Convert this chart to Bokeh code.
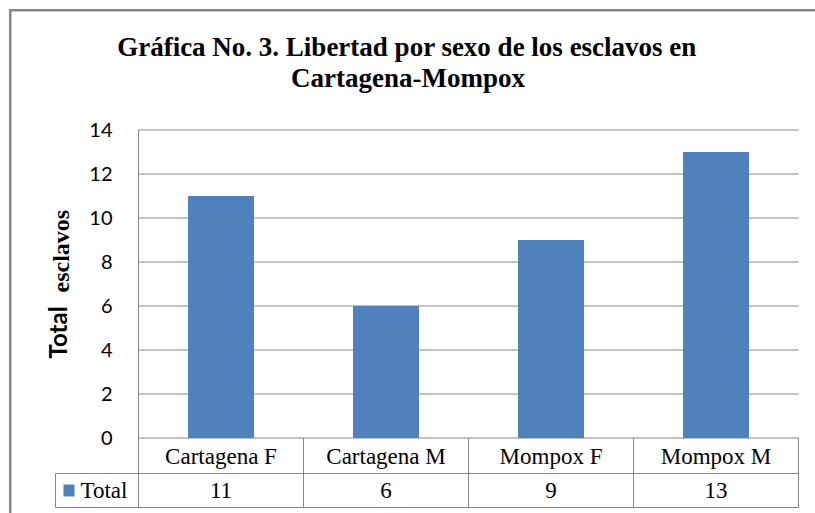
from math import pi
from bokeh.plotting import figure
from bokeh.models import Range1d, FixedTicker, Label
from bokeh.core.properties import value
from bokeh.embed import file_html
from bokeh.resources import INLINE

# ---- data ----
categories = ["Cartagena F", "Cartagena M", "Mompox F", "Mompox M"]
values = [11, 6, 9, 13]
series_name = "Total"
y_ticks = [0, 2, 4, 6, 8, 10, 12, 14]
title_lines = ["Gráfica No. 3. Libertad por sexo de los esclavos en", "Cartagena-Mompox"]
ylabel_parts = ["Total", "esclavos"]

BAR = "#4F81BD"
GRID = "#868686"
FRAME = "#878787"
SERIF = "Liberation Serif"
SANS = "Lato"

W, H = 815, 513
XPX, YPX = 165.0, 22.0          # pixels per category / per y unit
X0, Y0 = 138.0, 437.5           # pixel position of x=0 / y=0
FRAME_LEFT = 0


def dx(px):
    return (px - X0) / XPX


def dy(py):
    return (Y0 - py) / YPX


n = len(categories)
xs = [i + 0.5 for i in range(n)]
ymax = y_ticks[-1]
ROW_SEP = dy(473)
TABLE_BOTTOM = dy(507)

p = figure(width=W, height=H,
           x_range=Range1d(dx(FRAME_LEFT), dx(W)), y_range=Range1d(dy(H), dy(0)),
           x_axis_location=None, output_backend="svg", toolbar_location=None,
           min_border_left=FRAME_LEFT, min_border_right=0, min_border_top=0, min_border_bottom=0)
p.outline_line_color = None
p.background_fill_color = "white"
p.border_fill_color = "white"
p.grid.visible = False

# y axis (labels), placed so labels end 26px left of the value axis line
ax = p.yaxis[0]
ax.fixed_location = dx(112)
ax.ticker = FixedTicker(ticks=y_ticks)
ax.axis_line_color = None
ax.major_tick_in = 0
ax.major_tick_out = 0
ax.minor_tick_line_color = None
ax.major_label_standoff = 0
ax.major_label_text_font = SANS
ax.major_label_text_font_size = "20px"
ax.major_label_text_color = "black"

# horizontal gridlines across the category area and value axis line
p.segment(x0=[0] * len(y_ticks), x1=[n] * len(y_ticks), y0=y_ticks, y1=y_ticks,
          line_color=GRID, line_width=1)
p.segment(x0=[0], x1=[0], y0=[TABLE_BOTTOM], y1=[ymax], line_color=GRID, line_width=1)

# bars
p.vbar(x=xs, top=values, bottom=0, width=0.4, fill_color=BAR, line_color=None)

# data table
p.segment(x0=[dx(55), dx(55)], x1=[n, n], y0=[ROW_SEP, TABLE_BOTTOM], y1=[ROW_SEP, TABLE_BOTTOM],
          line_color=GRID, line_width=1)
p.segment(x0=[dx(55)] + list(range(1, n + 1)), x1=[dx(55)] + list(range(1, n + 1)),
          y0=[ROW_SEP] + [0] * n, y1=[TABLE_BOTTOM] * (n + 1), line_color=GRID, line_width=1)
p.text(x=xs, y=[dy(455.5)] * n, text=categories, text_align="center",
       text_baseline="middle", text_font=value(SERIF), text_font_size="23px", text_color="black")
p.text(x=xs, y=[dy(490)] * n, text=[str(v) for v in values],
       text_align="center", text_baseline="middle", text_font=value(SERIF),
       text_font_size="23px", text_color="black")

# legend key in table
p.quad(left=[dx(63)], right=[dx(74)], top=[dy(484)], bottom=[dy(496)], fill_color=BAR, line_color=None)
p.add_layout(Label(x=dx(80), y=dy(490), text=series_name,
                   text_align="left", text_baseline="middle", text_font=SERIF,
                   text_font_size="23px", text_color="black"))

# y axis title
p.add_layout(Label(x=dx(57), y=dy(358), text=ylabel_parts[0], angle=pi / 2,
                   text_align="left", text_baseline="middle", text_font=SANS,
                   text_font_style="bold", text_font_size="24px", text_color="black"))
p.add_layout(Label(x=dx(60.5), y=dy(292), text=ylabel_parts[1], angle=pi / 2,
                   text_align="left", text_baseline="middle", text_font=SERIF,
                   text_font_style="bold", text_font_size="24px", text_color="black"))

# title
p.add_layout(Label(x=dx(406.5), y=dy(46.6), text=title_lines[0],
                   text_align="center", text_baseline="middle", text_font=SERIF,
                   text_font_style="bold", text_font_size="27px", text_color="black"))
p.add_layout(Label(x=dx(407.5), y=dy(77.1), text=title_lines[1],
                   text_align="center", text_baseline="middle", text_font=SERIF,
                   text_font_style="bold", text_font_size="27px", text_color="black"))

# outer chart frame (top and left edges; the rest lies outside the picture)
p.segment(x0=[dx(8.5), dx(9.7)], x1=[dx(W + 10), dx(9.7)],
          y0=[dy(9.7), dy(9.7)], y1=[dy(9.7), dy(H + 10)],
          line_color=FRAME, line_width=2.5)

open("out.html", "w").write(file_html(p, INLINE))
